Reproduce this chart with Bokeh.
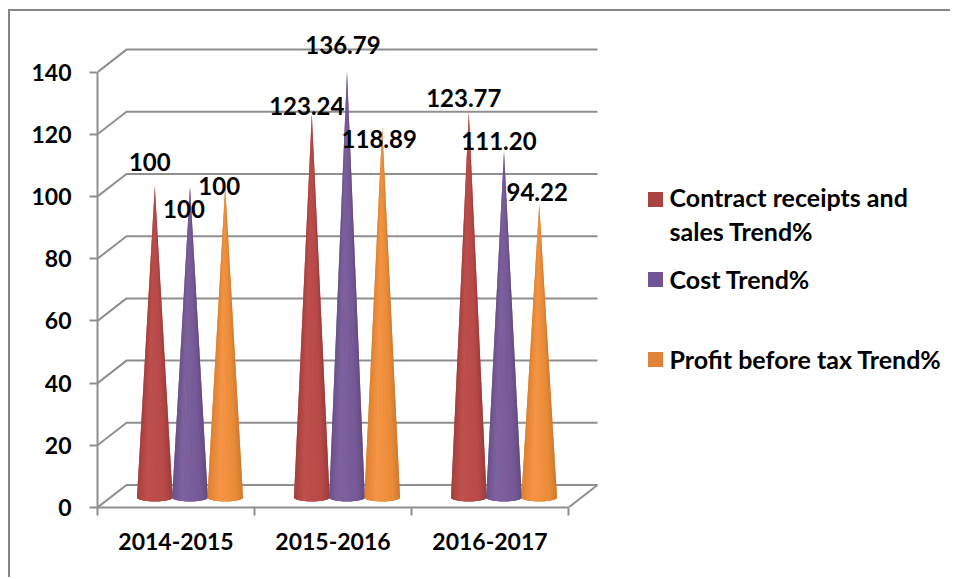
from bokeh.plotting import figure
from bokeh.models import ColumnDataSource, FixedTicker
from bokeh.core.properties import value
from bokeh.embed import file_html
from bokeh.resources import INLINE
import math

# ---- data ----
categories = ["2014-2015", "2015-2016", "2016-2017"]
series_names = ["Contract receipts and sales Trend%", "Cost Trend%", "Profit before tax Trend%"]
contract = [100, 123.24, 123.77]
cost = [100, 136.79, 111.20]
profit = [100, 118.89, 94.22]
contract_labels = ["100", "123.24", "123.77"]
cost_labels = ["100", "136.79", "111.20"]
profit_labels = ["100", "118.89", "94.22"]
y_ticks = [0, 20, 40, 60, 80, 100, 120, 140]

# ---- layout (page pixels) ----
OX, OY = 10, 11              # page pixel of the figure's corner (after margin + border)
W, H = 942, 568
FX0, FY0 = 97, 507           # page pixel of data (0, 0)
PX_X, PX_Y = 157.0, 3.11     # pixels per data unit
FTOP = 12

def dx(px):
    return (px - FX0) / PX_X

def dy(py):
    return (FY0 - py) / PX_Y

GRID = "#8f8f8f"
FONT = "Lato"

p = figure(width=W, height=H, output_backend="svg", toolbar_location=None,
           x_range=(0, (OX + W - FX0) / PX_X), y_range=(0, (FY0 - FTOP) / PX_Y),
           min_border_left=FX0 - OX, min_border_right=0, min_border_top=FTOP - OY,
           min_border_bottom=OY + H - FY0, outline_line_color=None,
           background_fill_color="white", border_fill_color="white")
p.styles = {"border-top": "2px solid #868686", "border-left": "2px solid #868686",
            "margin-top": "9px", "margin-left": "8px"}

p.xgrid.visible = False
p.ygrid.visible = False

# axes
xa = p.xaxis[0]
xa.ticker = FixedTicker(ticks=[0.5, 1.5, 2.5], minor_ticks=[0, 1, 2, 3])
xa.major_label_overrides = {0.5: categories[0], 1.5: categories[1], 2.5: categories[2]}
xa.bounds = (0, 3)
xa.major_tick_line_color = None
xa.major_tick_in = 0
xa.major_tick_out = 8
xa.minor_tick_out = 8
xa.minor_tick_in = 0
xa.minor_tick_line_color = GRID
xa.minor_tick_line_width = 2
xa.axis_line_color = GRID
xa.axis_line_width = 2
xa.major_label_standoff = 17
xa.major_label_text_font = FONT
xa.major_label_text_font_style = "bold"
xa.major_label_text_font_size = "23px"
xa.major_label_text_color = "black"

ya = p.yaxis[0]
ya.ticker = FixedTicker(ticks=y_ticks)
ya.bounds = (0, 140)
ya.major_tick_out = 8
ya.major_tick_in = 0
ya.major_tick_line_color = GRID
ya.major_tick_line_width = 2
ya.minor_tick_line_color = None
ya.axis_line_color = GRID
ya.axis_line_width = 2
ya.major_label_standoff = 18
ya.major_label_text_font = FONT
ya.major_label_text_font_style = "bold"
ya.major_label_text_font_size = "23px"
ya.major_label_text_color = "black"

# 3D back-wall gridlines
DEPTH_X = dx(126)
DEPTH_Y = (507 - 484.5) / PX_Y
gx, gy = [], []
for t in y_ticks:
    gx.append([0, DEPTH_X, 3 + DEPTH_X])
    gy.append([t, t + DEPTH_Y, t + DEPTH_Y])
p.multi_line(gx, gy, line_color=GRID, line_width=2)
# right edge of the floor
p.line([3, 3 + DEPTH_X], [0, DEPTH_Y], line_color=GRID, line_width=2)

# cones
OFFSET_X = 14 / PX_X
SPACING = 35.2 / PX_X
RX = 17.8 / PX_X
BASE_Y = (507 - 497) / PX_Y
RY = 4 / PX_Y
N = 28

def lerp(a, b, t):
    return a + (b - a) * t

def shade(stops, u):
    for (u0, c0), (u1, c1) in zip(stops, stops[1:]):
        if u <= u1:
            t = (u - u0) / (u1 - u0)
            return "#%02x%02x%02x" % tuple(round(lerp(a, b, t)) for a, b in zip(c0, c1))
    return "#%02x%02x%02x" % stops[-1][1]

shades = [
    [(0, (150, 54, 52)), (0.35, (192, 80, 77)), (0.7, (184, 74, 72)), (1, (140, 50, 48))],
    [(0, (96, 73, 122)), (0.35, (128, 100, 162)), (0.7, (118, 90, 152)), (1, (88, 66, 116))],
    [(0, (208, 120, 40)), (0.4, (247, 150, 70)), (0.7, (235, 140, 55)), (1, (190, 110, 40))],
]
under = ["#b04a48", "#73578f", "#e58a3e"]

xs, ys, cols = [], [], []
ux, uy, uc = [], [], []
for g in range(len(categories)):
    for s, vals in enumerate([contract, cost, profit]):
        cx = g + 0.5 + OFFSET_X + (s - 1) * SPACING
        tip = vals[g] + BASE_Y
        outline_x, outline_y = [cx], [tip]
        for k in range(N):
            a0 = math.pi + math.pi * k / N
            a1 = math.pi + math.pi * (k + 1) / N
            xs.append([cx, cx + RX * math.cos(a0), cx + RX * math.cos(a1)])
            ys.append([tip, BASE_Y + RY * math.sin(a0), BASE_Y + RY * math.sin(a1)])
            cols.append(shade(shades[s], (k + 0.5) / N))
            outline_x.append(cx + RX * math.cos(a0))
            outline_y.append(BASE_Y + RY * math.sin(a0))
        outline_x.append(cx + RX)
        outline_y.append(BASE_Y)
        ux.append(outline_x)
        uy.append(outline_y)
        uc.append(under[s])
p.patches(ux, uy, fill_color=uc, line_color=None)
src = ColumnDataSource(dict(xs=xs, ys=ys, c=cols))
p.patches("xs", "ys", source=src, fill_color="c", line_color=None)

# data labels: anchored on each cone, nudged by pixels
lab_offsets = [
    [(-5, -25), (-5, -8), (-5, -15)],   # contract
    [(-6, 22), (-4, -27), (-5, -11)],   # cost
    [(-6, -1), (-3, 11), (-2, -12)],    # profit
]
lx, ly, lt, lox, loy = [], [], [], [], []
for s, (vals, labs) in enumerate(zip([contract, cost, profit],
                                     [contract_labels, cost_labels, profit_labels])):
    for g in range(len(categories)):
        lx.append(g + 0.5 + OFFSET_X + (s - 1) * SPACING)
        ly.append(vals[g] + BASE_Y)
        lt.append(labs[g])
        lox.append(lab_offsets[s][g][0])
        loy.append(lab_offsets[s][g][1])
lsrc = ColumnDataSource(dict(x=lx, y=ly, t=lt, ox=lox, oy=loy))
p.text("x", "y", text="t", source=lsrc, x_offset="ox", y_offset="oy", text_align="center",
       text_baseline="middle", text_font=value(FONT), text_font_style="bold",
       text_font_size="24px", text_color="black")

# legend
leg_colors = ["#a94442", "#6f5496", "#e0843a"]
p.scatter([dx(655)] * 3, [dy(199), dy(279), dy(359)], marker="square", size=15,
          fill_color=leg_colors, line_color=None)
p.text([dx(669)] * 4, [dy(196), dy(230), dy(278), dy(358)],
       text=["Contract receipts and", "sales Trend%", series_names[1], series_names[2]],
       text_align="left", text_baseline="middle", text_font=value(FONT),
       text_font_style="bold", text_font_size="25px", text_color="black")

open("out.html", "w").write(file_html(p, INLINE))
